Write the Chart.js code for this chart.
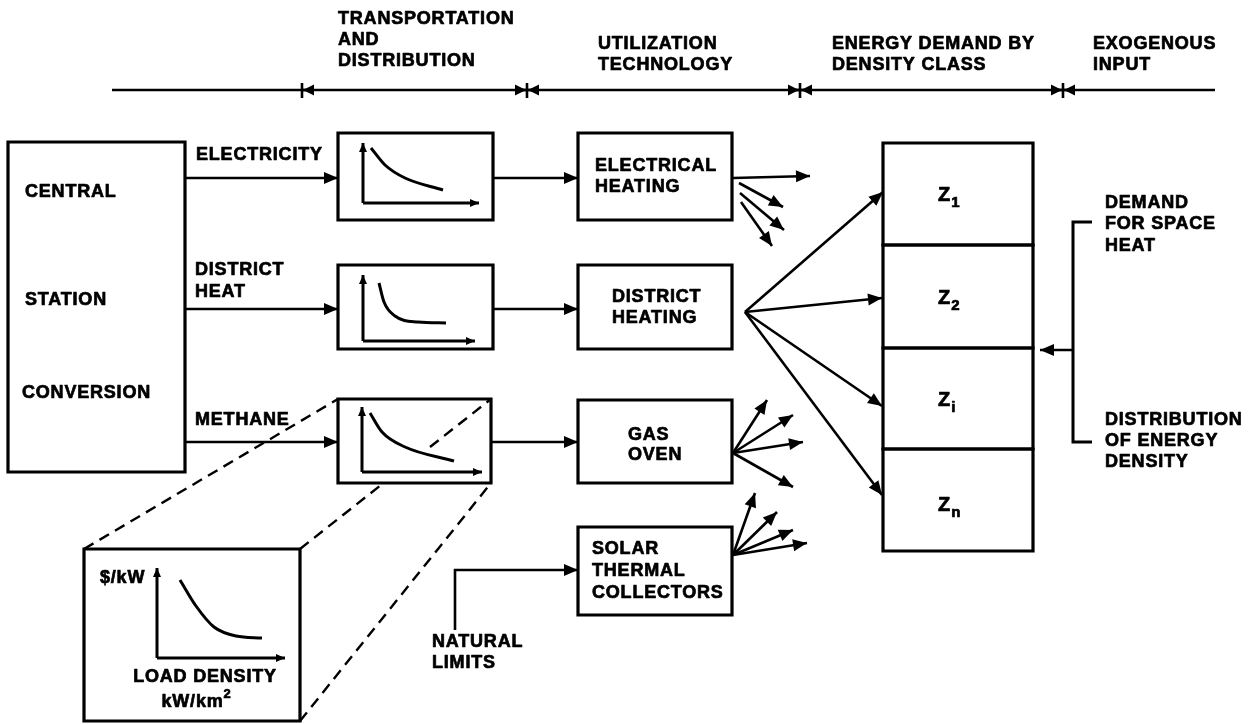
<!DOCTYPE html>
<html>
<head>
<meta charset="utf-8">
<script src="https://cdn.jsdelivr.net/npm/chart.js@4.4.0/dist/chart.umd.min.js"></script>
<style>
  html, body { margin: 0; padding: 0; background: #fff; }
</style>
</head>
<body>
<canvas id="diagram" width="1253" height="724"></canvas>
<script>
// --- diagram data (x, y in drawing units, y grows downward) ---

// header rule and the section dividers on it
const headerRule = [[112, 90], [1215, 90]];
const headerTicks = [302, 527, 800, 1063];

// boxes as [left, top, right, bottom]
const boxes = [
  [8, 142, 185, 472],                                        // central station conversion
  [338, 133, 493, 220], [338, 265, 493, 349], [338, 399, 491, 483], // transportation & distribution
  [578, 133, 732, 220], [578, 265, 732, 349], [578, 400, 732, 483], [578, 527, 732, 615], // utilization
  [883, 143, 1033, 245], [883, 245, 1033, 348], [883, 348, 1033, 449], [883, 449, 1033, 551], // Z classes
  [84, 549, 300, 721]                                        // enlarged cost curve
];

// lines that end in an arrowhead
const flowArrows = [
  [[185, 178], [338, 178]], [[185, 309], [338, 309]], [[185, 442], [338, 442]],
  [[493, 178], [578, 178]], [[493, 309], [578, 309]], [[491, 442], [578, 442]],
  [[733, 178], [810, 176]], [[739, 183], [783, 207]], [[740, 193], [784, 230]], [[741, 202], [772, 246]],
  [[745, 312], [883, 192]], [[745, 312], [882, 298]], [[745, 312], [882, 406]], [[745, 312], [882, 495]],
  [[733, 453], [767, 400]], [[733, 453], [793, 415]], [[733, 453], [803, 442]], [[733, 453], [793, 487]],
  [[733, 555], [755, 493]], [[733, 555], [777, 512]], [[733, 555], [793, 530]], [[733, 555], [807, 543]],
  [[455, 630], [455, 570], [578, 570]],
  [[1073, 350], [1040, 350]]
];

// small axes inside the cost boxes: [x, yBottom, yTop, xRight]
const miniAxes = [
  [363, 203, 143, 479], [363, 341, 275, 475], [362, 472, 407, 482], [157, 658, 568, 285]
];

// cost curves
const curves = [
  [[371, 148], [385, 165], [405, 178], [443, 190]],
  [[379, 283], [384, 302], [395, 316], [418, 322], [446, 323]],
  [[370, 413], [382, 432], [405, 447], [454, 461]],
  [[180, 580], [196, 606], [214, 627], [236, 636], [262, 638]]
];

const plainLines = [
  [[1092, 222], [1073, 222], [1073, 442], [1092, 442]]
];

const dashedLines = [
  [[84, 549], [338, 399]],
  [[300, 549], [381, 485]], [[430, 447], [491, 399]],
  [[300, 721], [491, 483]]
];

// text: [text, x, y, extra]
const labels = [
  ['TRANSPORTATION', 338, 19], ['AND', 338, 40], ['DISTRIBUTION', 338, 61],
  ['UTILIZATION', 598, 44], ['TECHNOLOGY', 598, 65],
  ['ENERGY DEMAND BY', 832, 44], ['DENSITY CLASS', 832, 65],
  ['EXOGENOUS', 1093, 44], ['INPUT', 1093, 65],
  ['CENTRAL', 25, 192], ['STATION', 25, 300], ['CONVERSION', 22, 393],
  ['ELECTRICITY', 196, 155], ['DISTRICT', 195, 270], ['HEAT', 195, 292], ['METHANE', 195, 420],
  ['ELECTRICAL', 595, 166], ['HEATING', 595, 187],
  ['DISTRICT', 612, 297], ['HEATING', 612, 318],
  ['GAS', 628, 435], ['OVEN', 628, 455],
  ['SOLAR', 592, 549], ['THERMAL', 592, 571], ['COLLECTORS', 592, 593],
  ['NATURAL', 432, 642], ['LIMITS', 432, 663],
  ['DEMAND', 1105, 203], ['FOR SPACE', 1105, 224], ['HEAT', 1105, 246],
  ['DISTRIBUTION', 1105, 420], ['OF ENERGY', 1105, 441], ['DENSITY', 1105, 462],
  ['$/kW', 100, 578],
  ['LOAD DENSITY', 205, 677, { align: 'center' }],
  ['kW/km', 197, 702, { align: 'center', sup: '2' }],
  ['Z', 938, 195, { sub: '1', big: true }], ['Z', 938, 298, { sub: '2', big: true }],
  ['Z', 938, 400, { sub: 'i', big: true }], ['Z', 938, 505, { sub: 'n', big: true }]
];

// --- build datasets ---
const datasets = [];
function pts(list) { return list.map(p => ({ x: p[0], y: p[1] })); }
function addLine(list, extra) {
  datasets.push(Object.assign({
    data: pts(list), showLine: true, pointRadius: 0, borderColor: '#000',
    borderWidth: 2.6, fill: false, tension: 0, clip: false,
    borderCapStyle: 'butt', borderJoinStyle: 'miter'
  }, extra || {}));
}

addLine(headerRule, { borderWidth: 2.6 });
headerTicks.forEach((x, i) => {
  addLine([[x, 83], [x, 98]], { borderWidth: 2.6 });
  addLine([[x + 12, 90], [x + 1, 90]], { head: [11, 5.5] });
  if (i > 0) addLine([[x - 12, 90], [x - 1, 90]], { head: [11, 5.5] });
});

boxes.forEach(b => addLine([[b[0], b[1]], [b[2], b[1]], [b[2], b[3]], [b[0], b[3]], [b[0], b[1]]],
  { borderWidth: 3.2, borderCapStyle: 'square' }));

flowArrows.forEach(a => addLine(a, { head: [14, 6] }));

miniAxes.forEach(m => {
  addLine([[m[0], m[1]], [m[0], m[2]]], { head: [9, 4], borderWidth: 3 });
  addLine([[m[0], m[1]], [m[3], m[1]]], { head: [9, 4], borderWidth: 3 });
});

curves.forEach(c => addLine(c, { cubicInterpolationMode: 'monotone', borderWidth: 3 }));
plainLines.forEach(l => addLine(l, { borderWidth: 3 }));
dashedLines.forEach(l => addLine(l, { borderWidth: 2.4, borderDash: [11, 7] }));

// --- plugins ---
const arrowHeads = {
  id: 'arrowHeads',
  afterDatasetsDraw(chart) {
    const ctx = chart.ctx;
    chart.data.datasets.forEach((d, i) => {
      if (!d.head) return;
      const p = chart.getDatasetMeta(i).data;
      const a = p[p.length - 2], b = p[p.length - 1];
      const ang = Math.atan2(b.y - a.y, b.x - a.x);
      const L = d.head[0], W = d.head[1];
      const c = Math.cos(ang), s = Math.sin(ang);
      ctx.save();
      ctx.fillStyle = '#000';
      ctx.beginPath();
      ctx.moveTo(b.x, b.y);
      ctx.lineTo(b.x - L * c + W * s, b.y - L * s - W * c);
      ctx.lineTo(b.x - L * c - W * s, b.y - L * s + W * c);
      ctx.closePath();
      ctx.fill();
      ctx.restore();
    });
  }
};

const FONT = '"Liberation Sans", Arial, sans-serif';
function heavyText(ctx, t, x, y) {
  ctx.fillText(t, x, y);
  ctx.strokeText(t, x, y);
}
const textLabels = {
  id: 'textLabels',
  afterDraw(chart) {
    const ctx = chart.ctx;
    const xs = chart.scales.x, ys = chart.scales.y;
    ctx.save();
    ctx.fillStyle = '#000';
    ctx.strokeStyle = '#000';
    ctx.lineWidth = 0.7;
    ctx.lineJoin = 'round';
    ctx.textBaseline = 'middle';
    ctx.textAlign = 'left';
    const spacing = 'letterSpacing' in ctx;
    labels.forEach(l => {
      const opt = l[3] || {};
      let x = xs.getPixelForValue(l[1]);
      const y = ys.getPixelForValue(l[2]);
      ctx.font = 'bold ' + (opt.big ? 20 : 18) + 'px ' + FONT;
      if (spacing) ctx.letterSpacing = opt.big ? '0px' : '0.8px';
      const sx = spacing ? 1 : 1.06;
      const w = ctx.measureText(l[0]).width * sx;
      const extraW = opt.sup ? 9 : 0;
      if (opt.align === 'center') x -= (w + extraW) / 2;
      ctx.save(); ctx.translate(x, y); ctx.scale(sx, 1); heavyText(ctx, l[0], 0, 0); ctx.restore();
      if (spacing) ctx.letterSpacing = '0px';
      if (opt.sub) {
        ctx.font = 'bold 15px ' + FONT;
        heavyText(ctx, opt.sub, x + w + 1, y + 8);
      }
      if (opt.sup) {
        ctx.font = 'bold 13px ' + FONT;
        heavyText(ctx, opt.sup, x + w, y - 8);
      }
    });
    ctx.restore();
  }
};

new Chart(document.getElementById('diagram').getContext('2d'), {
  type: 'scatter',
  data: { datasets: datasets },
  options: {
    responsive: false,
    animation: false,
    layout: { padding: 0 },
    plugins: { legend: { display: false }, tooltip: { enabled: false } },
    scales: {
      x: { type: 'linear', min: 0, max: 1253, display: false },
      y: { type: 'linear', min: 0, max: 724, reverse: true, display: false }
    }
  },
  plugins: [arrowHeads, textLabels]
});
</script>
</body>
</html>
